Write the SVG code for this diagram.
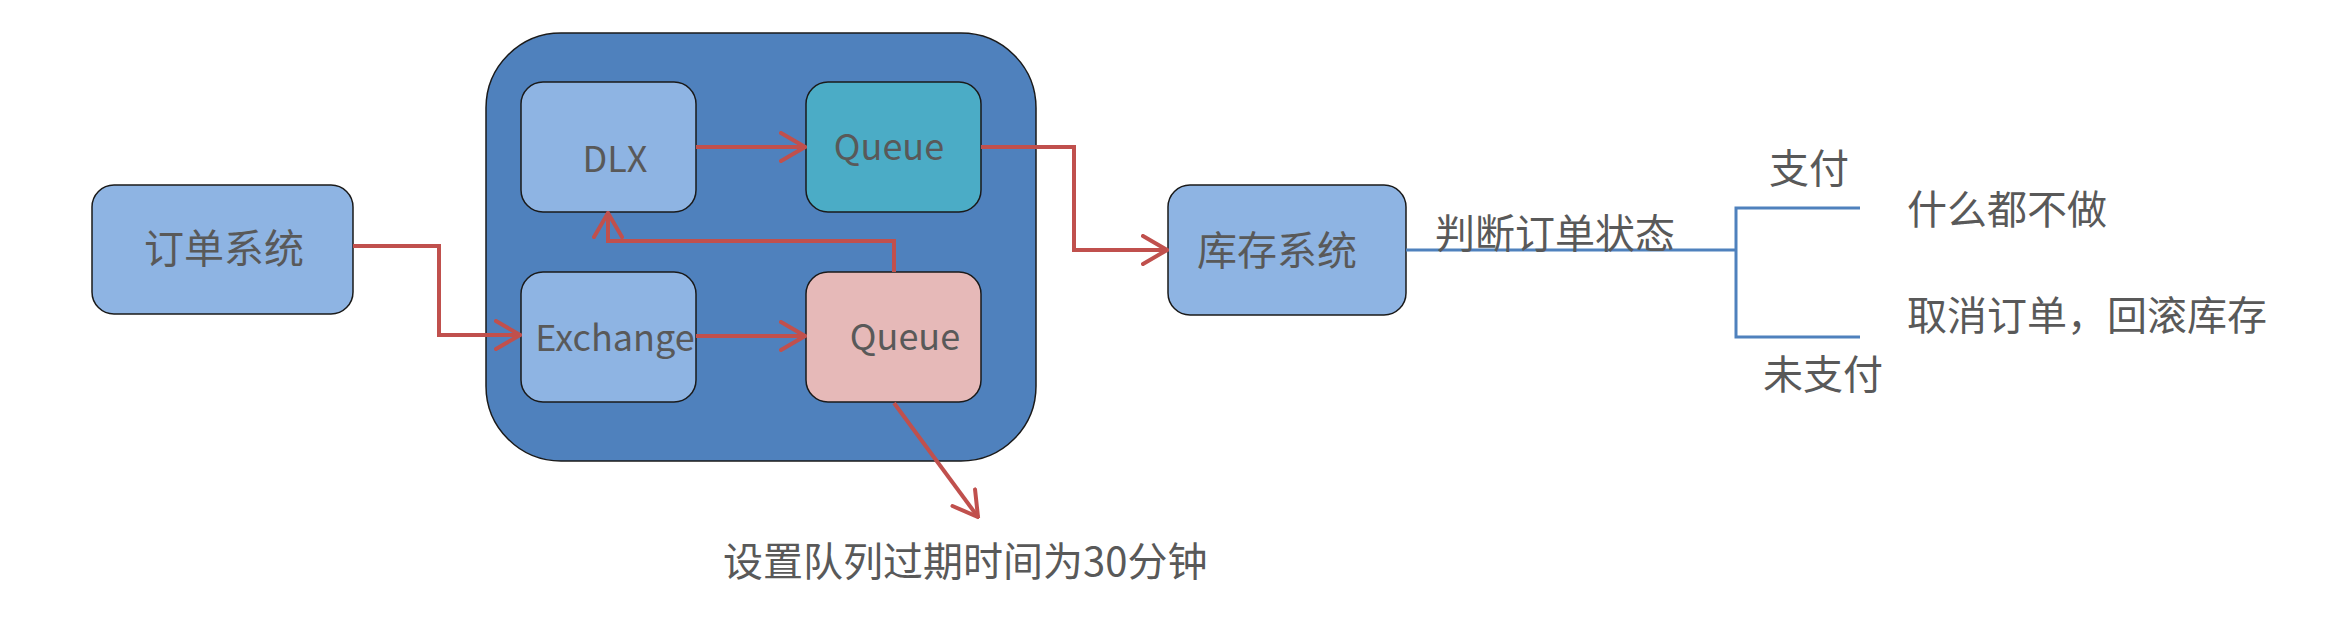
<svg xmlns="http://www.w3.org/2000/svg" width="2332" height="622" viewBox="0 0 2332 622">
  <defs>
    <marker id="arr" viewBox="0 0 28 32" refX="26" refY="16" markerWidth="28" markerHeight="32" markerUnits="userSpaceOnUse" orient="auto">
      <path d="M2,2 L26,16 L2,30" fill="none" stroke="#c0504d" stroke-width="4" stroke-linecap="round" stroke-linejoin="miter"/>
    </marker>
    <style>
      .box { stroke: #1a1a1a; stroke-width: 1.5; }
      .light { fill: #8eb4e3; }
      .t { font-family: "Noto Sans CJK SC", "Liberation Sans", sans-serif; font-size: 40px; fill: #595959; }
      .lat { font-size: 36px; }
      .red { fill: none; stroke: #c0504d; stroke-width: 4; }
      .blue { fill: none; stroke: #4f81bd; stroke-width: 3; }
    </style>
  </defs>

  <g id="container">
    <rect class="box" x="486" y="33" width="550" height="428" rx="75" ry="75" fill="#4f81bd"/>
  </g>

  <g id="order-system">
    <rect class="box light" x="92" y="185" width="261" height="129" rx="22" ry="22"/>
    <text class="t" x="224" y="263" text-anchor="middle">订单系统</text>
  </g>

  <g id="dlx">
    <rect class="box light" x="521" y="82" width="175" height="130" rx="22" ry="22"/>
    <text class="t lat" x="615" y="172" text-anchor="middle">DLX</text>
  </g>

  <g id="queue-top">
    <rect class="box" x="806" y="82" width="175" height="130" rx="22" ry="22" fill="#4bacc6"/>
    <text class="t lat" x="889" y="160" text-anchor="middle">Queue</text>
  </g>

  <g id="exchange">
    <rect class="box light" x="521" y="272" width="175" height="130" rx="22" ry="22"/>
    <text class="t lat" x="615" y="351" text-anchor="middle">Exchange</text>
  </g>

  <g id="queue-bottom">
    <rect class="box" x="806" y="272" width="175" height="130" rx="22" ry="22" fill="#e6b9b8"/>
    <text class="t lat" x="905" y="350" text-anchor="middle">Queue</text>
  </g>

  <g id="stock-system">
    <rect class="box light" x="1168" y="185" width="238" height="130" rx="22" ry="22"/>
    <text class="t" x="1277" y="265" text-anchor="middle">库存系统</text>
  </g>

  <g id="connectors">
    <polyline class="red" points="353,246 439,246 439,335 520,335" marker-end="url(#arr)"/>
    <line class="red" x1="696" y1="147" x2="805" y2="147" marker-end="url(#arr)"/>
    <line class="red" x1="696" y1="336" x2="805" y2="336" marker-end="url(#arr)"/>
    <polyline class="red" points="894,272 894,241 608,241 608,213" marker-end="url(#arr)"/>
    <polyline class="red" points="981,147 1074,147 1074,250 1167,250" marker-end="url(#arr)"/>
    <line class="red" x1="894" y1="403" x2="978" y2="517" marker-end="url(#arr)"/>
    <line class="blue" x1="1406" y1="250" x2="1736" y2="250"/>
    <polyline class="blue" points="1860,208 1736,208 1736,337 1860,337"/>
  </g>

  <g id="labels">
    <text class="t" x="1555" y="248" text-anchor="middle">判断订单状态</text>
    <text class="t" x="1809" y="183" text-anchor="middle">支付</text>
    <text class="t" x="1823" y="389" text-anchor="middle">未支付</text>
    <text class="t" x="2007" y="224" text-anchor="middle">什么都不做</text>
    <text class="t" x="1907" y="330">取消订单，回滚库存</text>
    <text class="t" x="723" y="576">设置队列过期时间为30分钟</text>
  </g>
</svg>
